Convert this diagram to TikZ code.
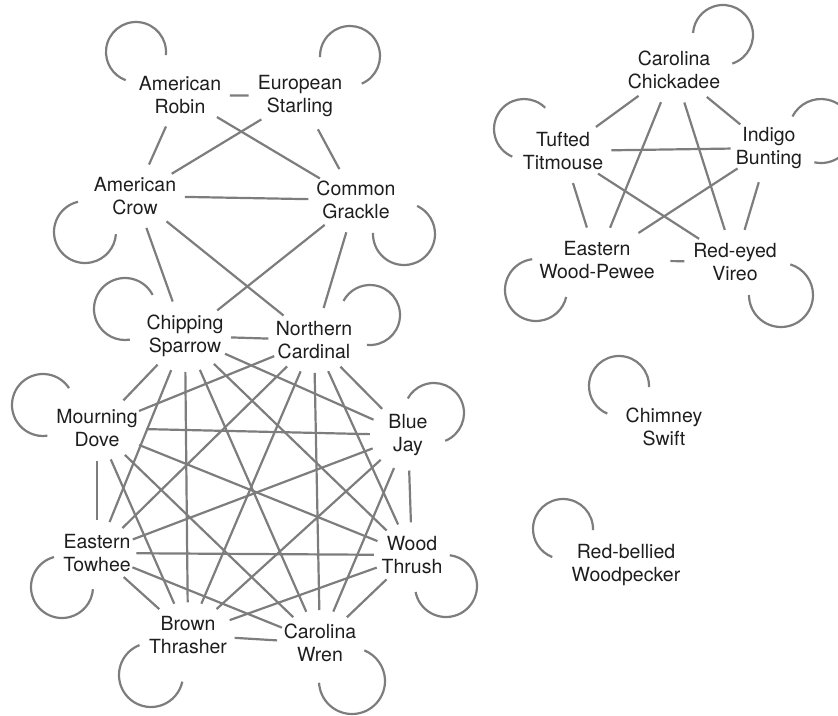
\documentclass[tikz,border=0pt]{standalone}
\usepackage{fontspec}
\setmainfont{TeX Gyre Heros}
\usetikzlibrary{shapes.geometric}
\definecolor{edgegray}{RGB}{125,125,125}
\definecolor{txt}{RGB}{30,30,30}
\newcommand\birdloop[6]{\draw[link] ([shift={(#2,#3)}]#1.center) ++(#5:#4) arc[start angle=#5,end angle=#6,radius=#4];}
\begin{document}
\begin{tikzpicture}[x=1pt,y=1pt,
  bird/.style={shape=ellipse, inner xsep=-6pt, inner ysep=4pt, minimum width=76pt,
    align=center, font=\fontsize{19.5}{23.5}\selectfont, text=txt},
  link/.style={draw=edgegray, line width=2.2pt}]
\useasboundingbox (0,0) rectangle (838,-715);
% nodes
\node[bird] (robin)      at (180,-95)  {American\\Robin};
\node[bird] (starling)   at (300,-96)  {European\\Starling};
\node[bird] (crow)       at (135,-196) {American\\Crow};
\node[bird] (grackle)    at (356,-200) {Common\\Grackle};
\node[bird] (sparrow)    at (185,-336) {Chipping\\Sparrow};
\node[bird] (cardinal)   at (314,-340) {Northern\\Cardinal};
\node[bird] (dove)       at (97,-428)  {Mourning\\Dove};
\node[bird] (bluejay)    at (408,-435) {Blue\\Jay};
\node[bird] (towhee)     at (97,-553)  {Eastern\\Towhee};
\node[bird] (thrush)     at (412,-555) {Wood\\Thrush};
\node[bird] (thrasher)   at (188,-635) {Brown\\Thrasher};
\node[bird] (wren)       at (320,-643) {Carolina\\Wren};
\node[bird] (chickadee)  at (674,-70)  {Carolina\\Chickadee};
\node[bird] (titmouse)   at (563,-151) {Tufted\\Titmouse};
\node[bird] (indigo)     at (769,-148) {Indigo\\Bunting};
\node[bird] (pewee)      at (597,-260) {Eastern\\Wood-Pewee};
\node[bird] (vireo)      at (735,-262) {Red-eyed\\Vireo};
\node[bird] (swift)      at (664,-427) {Chimney\\Swift};
\node[bird] (woodpecker) at (626,-565) {Red-bellied\\Woodpecker};
% edges
\foreach \a/\b in {robin/starling, robin/crow, robin/grackle, starling/crow,
  starling/grackle, crow/grackle, crow/sparrow, crow/cardinal,
  grackle/sparrow, grackle/cardinal,
  sparrow/cardinal, sparrow/dove, sparrow/bluejay, sparrow/towhee,
  sparrow/thrush, sparrow/thrasher, sparrow/wren,
  cardinal/dove, cardinal/bluejay, cardinal/towhee, cardinal/thrush,
  cardinal/thrasher, cardinal/wren,
  dove/bluejay, dove/towhee, dove/thrush, dove/thrasher, dove/wren,
  bluejay/towhee, bluejay/thrush, bluejay/thrasher, bluejay/wren,
  towhee/thrush, towhee/thrasher, towhee/wren,
  thrush/thrasher, thrush/wren, thrasher/wren,
  chickadee/titmouse, chickadee/indigo, chickadee/pewee, chickadee/vireo,
  titmouse/indigo, titmouse/pewee, titmouse/vireo,
  indigo/pewee, indigo/vireo, pewee/vireo}
  \draw[link] (\a) -- (\b);
% self loops
\birdloop{robin}{-44}{43}{30}{-6}{250}
\birdloop{starling}{50}{40}{30}{-67}{182}
\birdloop{crow}{-50}{-36}{31}{103}{356}
\birdloop{grackle}{48}{-34}{31}{178}{425}
\birdloop{sparrow}{-60}{27}{31}{27}{279}
\birdloop{cardinal}{56}{25}{30}{-96}{152}
\birdloop{dove}{-54}{23}{31}{33}{278}
\birdloop{bluejay}{26}{22}{30}{-68}{151}
\birdloop{towhee}{-35}{-34}{31}{105}{356}
\birdloop{thrush}{34}{-31}{31}{191}{443}
\birdloop{thrasher}{-37}{-40}{32}{111}{348}
\birdloop{wren}{32}{-38}{33}{183}{428}
\birdloop{chickadee}{49}{35}{30}{-72}{176}
\birdloop{titmouse}{-39}{22}{30}{45}{247}
\birdloop{indigo}{52}{17}{32}{-102}{153}
\birdloop{pewee}{-61}{-30}{31}{97}{347}
\birdloop{vireo}{46}{-33}{32}{180}{433}
\birdloop{swift}{-45}{41}{30}{-2}{247}
\birdloop{woodpecker}{-63}{36}{30}{-2}{249}
\end{tikzpicture}
\end{document}
